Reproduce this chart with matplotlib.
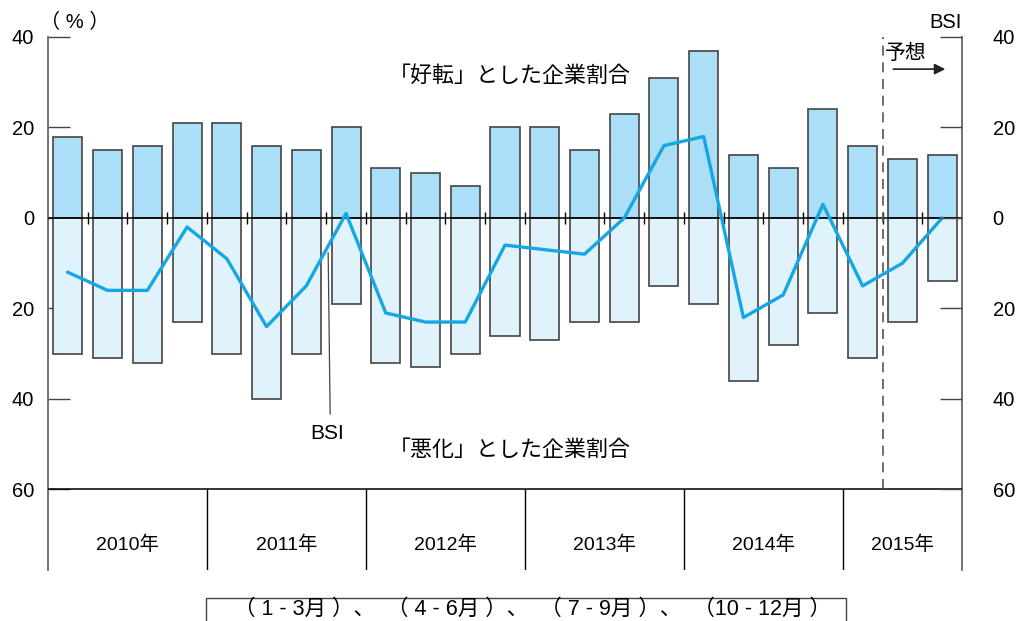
import matplotlib.pyplot as plt
from matplotlib.patches import Rectangle

plt.rcParams['font.family'] = ['Liberation Sans', 'Noto Sans CJK JP']

# data (quarterly, 2010 Q1 - 2015 Q3)
years = ["2010年", "2011年", "2012年", "2013年", "2014年", "2015年"]
quarters_per_year = [4, 4, 4, 4, 4, 3]
improved = [18, 15, 16, 21, 21, 16, 15, 20, 11, 10, 7, 20,
            20, 15, 23, 31, 37, 14, 11, 24, 16, 13, 14]
worsened = [30, 31, 32, 23, 30, 40, 30, 19, 32, 33, 30, 26,
            27, 23, 23, 15, 19, 36, 28, 21, 31, 23, 14]
bsi = [-12, -16, -16, -2, -9, -24, -15, 1, -21, -23, -23, -6,
       -7, -8, 0, 16, 18, -22, -17, 3, -15, -10, 0]
tick_vals = [40, 20, 0, -20, -40, -60]
tick_labels = ["40", "20", "0", "20", "40", "60"]
forecast_start = 21

n = len(improved)
x = [i + 0.5 for i in range(n)]
ymin = -77.8

fig = plt.figure(figsize=(10.22, 6.21), dpi=100)
ax = fig.add_axes([48 / 1022, 1 - 570 / 621, 914 / 1022, 533 / 621])
ax.set_xlim(0, n)
ax.set_ylim(ymin, 40)

edge = "#444444"
ax.bar(x, improved, width=0.73, color="#aadff7", edgecolor=edge, linewidth=1.2, zorder=2)
ax.bar(x, [-v for v in worsened], width=0.73, color="#e0f2fc", edgecolor=edge, linewidth=1.2, zorder=2)
ax.plot(x, bsi, color="#15a7e4", linewidth=2.4, zorder=4)

# zero line with small ticks, 60 line
ax.axhline(0, color="black", linewidth=1.1, zorder=3)
ax.axhline(-60, color="black", linewidth=1.1, zorder=3)
ax.vlines(range(1, n), -1.3, 1.3, color="black", linewidth=1.0, zorder=3)

# year table
pos = 0
for yr, q in zip(years, quarters_per_year):
    ax.text(pos + q / 2, -72.3, yr, ha="center", va="center", fontsize=14)
    pos += q
    if pos < n:
        ax.vlines(pos, ymin, -60, color="black", linewidth=1.0)

# forecast marker
ax.vlines(forecast_start, -60, 40, color="#555555", linewidth=1.2,
          linestyles=(0, (6, 4)), zorder=3)
ax.text(forecast_start + 0.06, 36.4, "予想", ha="left", va="center", fontsize=15)
ax.annotate("", xy=(22.65, 32.9), xytext=(21.2, 32.9),
            arrowprops=dict(arrowstyle="-|>", color="#222222", lw=1.2,
                            mutation_scale=16))

# labels
ax.text(11.63, 31.2, "「好転」とした企業割合", ha="center", va="center", fontsize=15.8)
ax.text(11.63, -51.3, "「悪化」とした企業割合", ha="center", va="center", fontsize=15.8)
ax.plot([7.05, 7.1], [-7.7, -43.3], color="#444444", linewidth=0.9, zorder=3)
ax.text(7.02, -47.6, "BSI", ha="center", va="center", fontsize=15)

# axes styling
for s in ["top", "bottom"]:
    ax.spines[s].set_visible(False)
for s in ["left", "right"]:
    ax.spines[s].set_color("#666666")
    ax.spines[s].set_linewidth(1.3)
ax.set_xticks([])
ax.set_yticks(tick_vals)
ax.set_yticklabels(tick_labels, fontsize=14.5)
ax.tick_params(axis="y", direction="in", length=16, width=1.0, color="#444444", pad=10)

ax2 = ax.twinx()
ax2.set_ylim(ymin, 40)
for s in ["top", "bottom", "left", "right"]:
    ax2.spines[s].set_visible(False)
ax2.set_yticks(tick_vals)
ax2.set_yticklabels(tick_labels, fontsize=14.5)
ax2.tick_params(axis="y", direction="in", length=16, width=1.0, color="#444444", pad=22)

fig.text(40 / 1022, 1 - 22 / 621, "（ % ）", ha="left", va="center", fontsize=14.5)
fig.text(962 / 1022, 1 - 22 / 621, "BSI", ha="right", va="center", fontsize=14.5)

# quarter legend box
fig.patches.append(Rectangle((206 / 1022, -0.05), 640 / 1022, 0.05 + 23 / 621,
                             transform=fig.transFigure, fill=False,
                             edgecolor="#444444", linewidth=1.0))
fig.text(532 / 1022, 12 / 621, "（ 1 - 3月 ）、  （ 4 - 6月 ）、  （ 7 - 9月 ）、  （10 - 12月 ）",
         ha="center", va="center", fontsize=15.5)

fig.savefig("out.png", dpi=100)
